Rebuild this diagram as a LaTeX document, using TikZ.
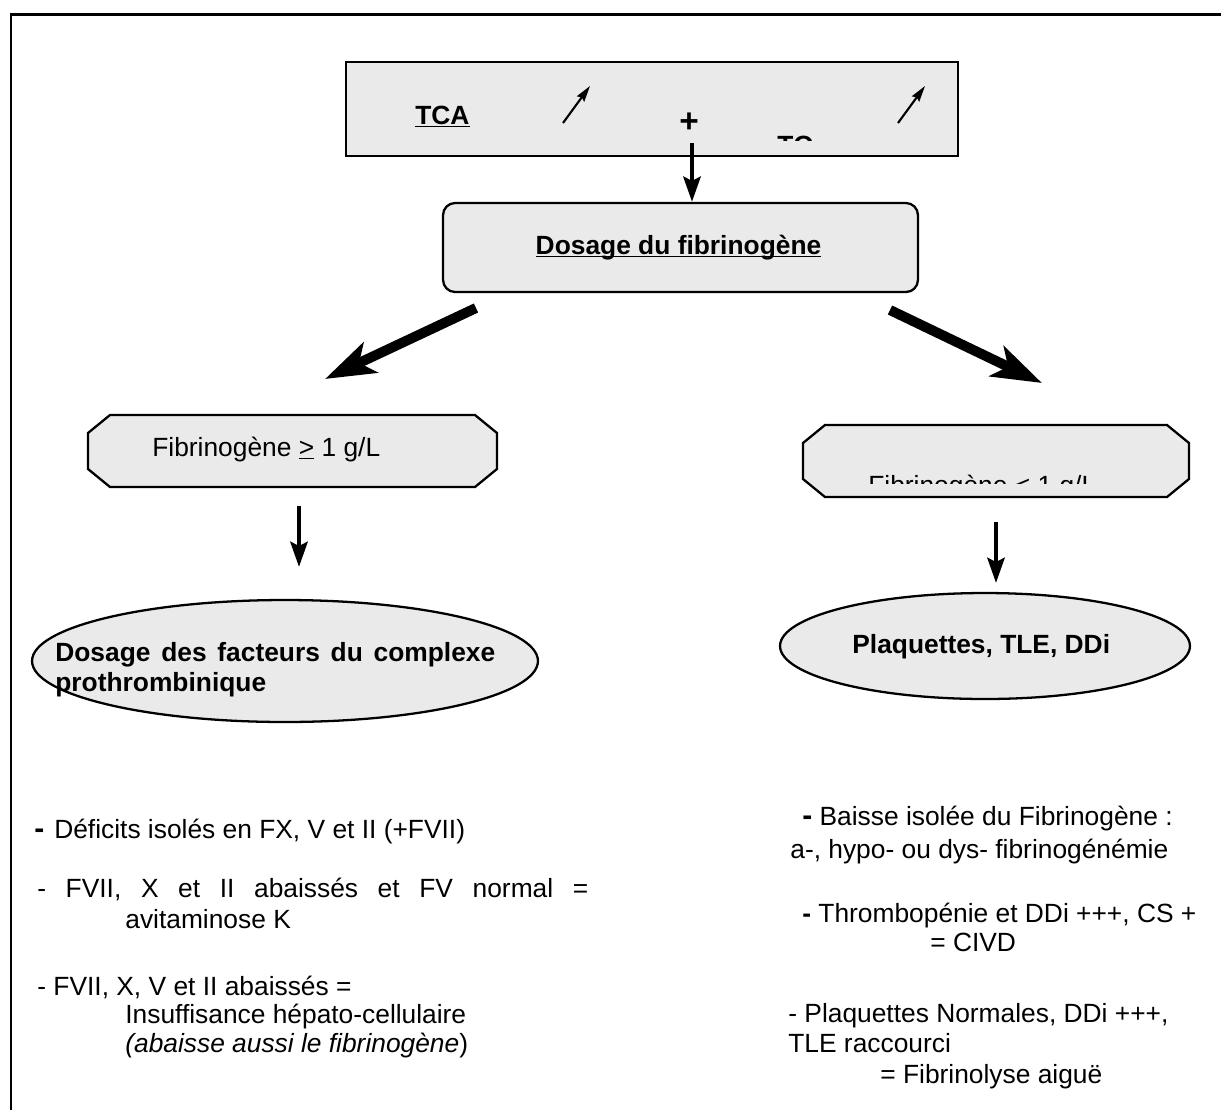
\documentclass[tikz,border=0pt]{standalone}
\usepackage{fontspec}
\setmainfont{Liberation Sans}
\usetikzlibrary{arrows.meta,shapes.geometric}
\definecolor{fondgris}{HTML}{EAEAEA}
\tikzstyle{boite}=[draw, line width=1.3pt, fill=fondgris]
\tikzstyle{texte}=[inner sep=0pt, anchor=base west, font=\fontsize{15}{18}\selectfont]
\tikzstyle{gras}=[inner sep=0pt, anchor=base west, font=\fontsize{15}{18}\selectfont\bfseries]
\tikzstyle{fleche}=[line width=2.8pt, -{Stealth[length=0.5cm, width=0.34cm, inset=0.08cm]}]
\tikzstyle{grossefleche}=[line width=0.2cm, -{Stealth[length=1cm, width=0.66cm, inset=0.25cm]}]
\tikzstyle{petitefleche}=[line width=1.2pt, -{Stealth[length=0.32cm, width=0.18cm, inset=0.04cm]}]
\newcommand{\souligne}[1]{\underline{\smash{#1}}}
\newcommand{\grostiret}{{\fontsize{17}{18}\selectfont\bfseries -}}

\begin{document}
\begin{tikzpicture}[x=0.02cm, y=-0.02cm]
            \useasboundingbox (0,0) rectangle (1221,1110);
            %\draw[step=50, gray, very thin] (0,0) grid (1221,1110);
            \draw[line width=1.7pt] (11,1110) -- (11,14) -- (1221,14);

            %%%%% TCA + TQ
            \node[boite, rectangle, minimum width=12.24cm, minimum height=1.88cm] (bandeau) at (652,109) {};
            \node[gras] (tca) at (415,124) {\souligne{TCA}};
            \draw[petitefleche] (563,123) -- (590,86);
            \node[inner sep=0pt, font=\fontsize{19}{20}\selectfont\bfseries] (plus) at (689,123) {+};
            \begin{scope}
                \clip (346,62) rectangle (958,140);
                \node[gras] (tq) at (777,154) {\souligne{TQ}};
            \end{scope}
            \draw[petitefleche] (898,123) -- (925,86);

            %%%%% fibrinogene
            \node[boite, rectangle, rounded corners=0.24cm, minimum width=9.5cm, minimum height=1.78cm] (dosage) at (680.5,247.5) {};
            \node[gras, anchor=base] (dosagetxt) at (678.5,254) {\souligne{Dosage du fibrinogène}};
            \coordinate (depart) at (692,143);
            \draw[fleche] (depart) -- (depart |- dosage.north);

            \coordinate (gauche1) at (476,308);
            \coordinate (gauche2) at (325,379);
            \coordinate (droite1) at (890,310);
            \coordinate (droite2) at (1042,383);
            \draw[grossefleche] (gauche1) -- (gauche2);
            \draw[grossefleche] (droite1) -- (droite2);

            %%%%% fibrinogene >= 1
            \draw[boite] (88,433) -- (110,415) -- (475,415) -- (497,433) -- (497,469) -- (475,487) -- (110,487) -- (88,469) -- cycle;
            \node[texte] (fibnormal) at (152,456) {Fibrinogène \underline{>} 1 g/L};
            \coordinate (g1) at (299,506);
            \coordinate (g2) at (299,567);
            \draw[fleche] (g1) -- (g2);

            %%%%% fibrinogene < 1
            \draw[boite] (803,443) -- (825,425) -- (1167,425) -- (1189,443) -- (1189,479) -- (1167,497) -- (825,497) -- (803,479) -- cycle;
            \begin{scope}
                \clip (803,425) rectangle (1189,483);
                \node[texte] (fibbas) at (868,494) {Fibrinogène \underline{<} 1 g/L};
            \end{scope}
            \coordinate (d1) at (996,522);
            \coordinate (d2) at (996,583);
            \draw[fleche] (d1) -- (d2);

            %%%%% ellipses
            \node[boite, ellipse, minimum width=10.12cm, minimum height=2.44cm] (facteurs) at (285,661) {};
            \node[gras] (facteurs1) at (55,661) {\makebox[8.8cm][s]{Dosage des facteurs du complexe}};
            \node[gras] (facteurs2) at (55,691) {prothrombinique};
            \node[boite, ellipse, minimum width=8.2cm, minimum height=2.12cm] (plaquettes) at (985,646) {};
            \node[gras] (plaquettes1) at (852,653) {Plaquettes, TLE, DDi};

            %%%%% gauche
            \node[texte] (gl1) at (34,838) {\grostiret\hspace{0.2cm}Déficits isolés en FX, V et II (+FVII)};
            \node[texte] (gl2) at (37,897) {\makebox[11.02cm][s]{- FVII, X et II abaissés et FV normal =}};
            \node[texte] (gl3) at (125,928) {avitaminose K};
            \node[texte] (gl4) at (37,995) {- FVII, X, V et II abaissés =};
            \node[texte] (gl5) at (125,1023) {Insuffisance hépato-cellulaire};
            \node[texte] (gl6) at (125,1052) {\textit{(abaisse aussi le fibrinogène})};

            %%%%% droite
            \node[texte] (dr1) at (802,825) {\grostiret\ Baisse isolée du Fibrinogène :};
            \node[texte] (dr2) at (790,858) {a-, hypo- ou dys- fibrinogénémie};
            \node[texte] (dr3) at (802,922) {{\bfseries -} Thrombopénie et DDi +++, CS +};
            \node[texte] (dr4) at (930,951) {= CIVD};
            \node[texte] (dr5) at (788,1022) {- Plaquettes Normales, DDi +++,};
            \node[texte] (dr6) at (788,1052) {TLE raccourci};
            \node[texte] (dr7) at (880,1083) {= Fibrinolyse aiguë};
\end{tikzpicture}
\end{document}
